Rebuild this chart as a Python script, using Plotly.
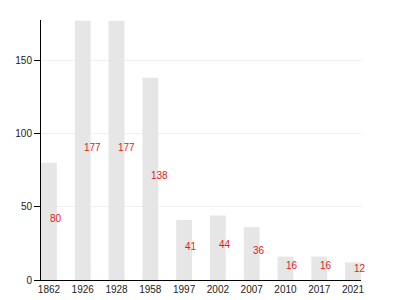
import plotly.graph_objects as go

years = ["1862", "1926", "1928", "1958", "1997", "2002", "2007", "2010", "2017", "2021"]
values = [80, 177, 177, 138, 41, 44, 36, 16, 16, 12]
y_ticks = [0, 50, 100, 150]

idx = list(range(len(years)))

fig = go.Figure()
fig.add_trace(go.Bar(
    x=idx, y=values, width=0.47,
    marker=dict(color="#e6e6e6", line=dict(width=0)),
    hoverinfo="skip",
))

for i, v in zip(idx, values):
    fig.add_annotation(
        x=i, y=v / 2, text=str(v), showarrow=False,
        xanchor="left", yanchor="middle", xshift=-1, yshift=3,
        font=dict(family="Liberation Sans, Arial", size=10, color="#e8151b"),
    )

fig.update_layout(
    width=400, height=300,
    margin=dict(l=41, r=39, t=20, b=20),
    paper_bgcolor="white", plot_bgcolor="white",
    showlegend=False,
    font=dict(family="Liberation Sans, Arial", size=10, color="#222"),
    xaxis=dict(
        range=[-0.235, 9.235], tickmode="array", tickvals=idx, ticktext=years,
        showline=True, linecolor="black", linewidth=1, showgrid=False,
        ticks="", zeroline=False, fixedrange=True, automargin=False,
    ),
    yaxis=dict(
        range=[0, 177.5], tickmode="array", tickvals=y_ticks,
        showline=True, linecolor="black", linewidth=1,
        showgrid=True, gridcolor="#eeeeee", gridwidth=1,
        ticks="outside", ticklen=6, tickcolor="black",
        zeroline=False, fixedrange=True, automargin=False,
    ),
)

fig.write_html("out.html")
